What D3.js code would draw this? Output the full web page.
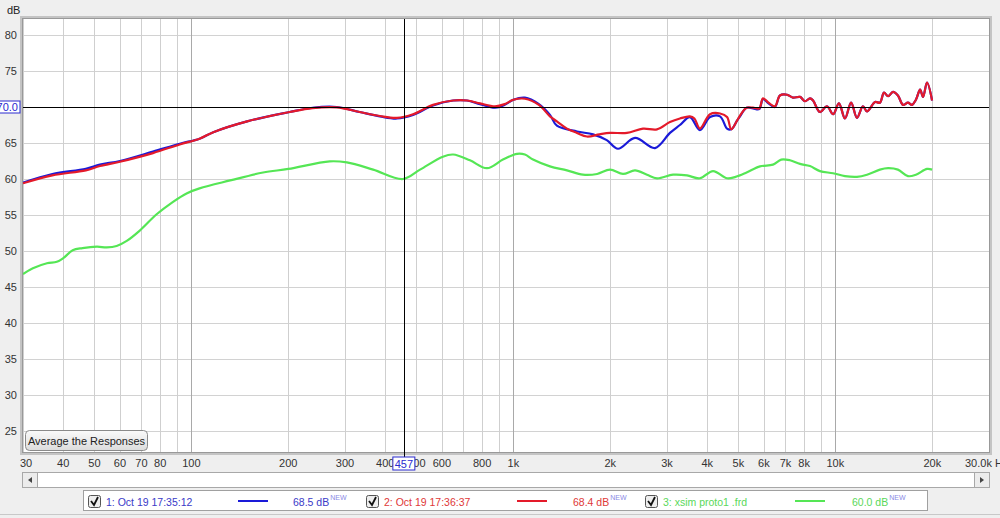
<!DOCTYPE html>
<html>
<head>
<meta charset="utf-8">
<script src="https://cdn.jsdelivr.net/npm/d3@7"></script>
<style>
  html, body { margin: 0; padding: 0; background: #efefef; }
  svg { display: block; font-family: "Liberation Sans", Arial, sans-serif; }
</style>
</head>
<body>
<svg id="chart" width="1000" height="518"></svg>
<script>
// ---- data ----
const yTicks = [25, 30, 35, 40, 45, 50, 55, 60, 65, 70, 75, 80];
const gridFreqs = [30, 40, 50, 60, 70, 80, 90, 100, 200, 300, 400, 500, 600, 700, 800, 900,
  1000, 2000, 3000, 4000, 5000, 6000, 7000, 8000, 9000, 10000, 20000];
const decadeFreqs = [100, 1000, 10000];
const xLabelFreqs = [30, 40, 50, 60, 70, 80, 100, 200, 300, 400, 500, 600, 800, 1000,
  2000, 3000, 4000, 5000, 6000, 7000, 8000, 10000, 20000];
const xLabelText = ["30", "40", "50", "60", "70", "80", "100", "200", "300", "400", "500", "600", "800", "1k",
  "2k", "3k", "4k", "5k", "6k", "7k", "8k", "10k", "20k"];

const redFreq = [30, 37, 47, 52, 60, 76, 92, 106, 117, 149, 202, 238, 283, 333, 385, 435, 488, 563, 650, 718,
  788, 877, 940, 1000, 1086, 1200, 1299, 1365, 1467, 1576, 1692, 1850, 1996, 2253, 2527, 2793, 3064, 3291,
  3534, 3650, 3795, 4081, 4384, 4609, 4750, 4950, 5057, 5300, 5550, 5800, 5961, 6200, 6490, 6732, 7080,
  7385, 7765, 8052, 8340, 8525, 8955, 9420, 9840, 10260, 10710, 11190, 11670, 12180, 12540, 13290, 13750,
  14160, 14580, 15100, 15640, 16220, 16800, 17300, 17790, 18330, 18720, 19260, 19970];
const redDb = [59.4, 60.5, 61.2, 61.8, 62.4, 63.6, 64.8, 65.6, 66.5, 68.0, 69.3, 69.85, 69.95, 69.3, 68.75, 68.5,
  69.0, 70.3, 70.9, 70.9, 70.5, 70.1, 70.4, 71.0, 71.15, 70.3, 68.7, 68.0, 67.0, 66.4, 65.9, 66.2, 66.4, 66.4,
  67.0, 66.9, 67.9, 68.4, 68.7, 68.4, 67.0, 69.0, 69.1, 68.6, 66.9, 68.1, 68.8, 69.9, 69.9, 69.8, 71.2, 70.6,
  70.1, 71.6, 71.7, 71.3, 71.4, 70.8, 71.2, 70.9, 69.3, 70.1, 69.0, 70.5, 68.4, 70.6, 68.5, 70.1, 69.4, 70.7,
  70.6, 72.0, 71.5, 72.1, 71.6, 70.3, 70.6, 70.3, 71.0, 72.4, 71.4, 73.4, 70.9];

const blueFreq = [30, 37, 47, 52, 60, 76, 92, 106, 117, 149, 202, 238, 283, 333, 385, 435, 488, 563, 650, 718,
  788, 877, 940, 1000, 1086, 1200, 1299, 1365, 1576, 1767, 1950, 2113, 2387, 2753, 3064, 3291, 3534, 3795,
  4081, 4384, 4609, 4750, 4950, 5057, 5300, 5550, 5800, 5961, 6200, 6490, 6732, 7080, 7385, 7765, 8052,
  8340, 8525, 8955, 9420, 9840, 10260, 10710, 11190, 11670, 12180, 12540, 13290, 13750, 14160, 14580,
  15100, 15640, 16220, 16800, 17300, 17790, 18330, 18720, 19260, 19970];
const blueDb = [59.5, 60.7, 61.4, 62.0, 62.5, 63.8, 64.9, 65.6, 66.5, 68.0, 69.3, 69.9, 70.0, 69.3, 68.7, 68.4,
  68.9, 70.2, 70.9, 70.9, 70.4, 69.9, 70.3, 71.0, 71.3, 70.4, 68.9, 67.4, 66.6, 66.2, 65.4, 64.2, 65.7, 64.3,
  66.4, 67.5, 68.6, 66.8, 68.6, 68.7, 67.0, 66.9, 68.1, 68.7, 69.9, 69.8, 69.7, 71.1, 70.5, 70.0, 71.6, 71.7,
  71.3, 71.4, 70.8, 71.2, 70.9, 69.3, 70.1, 69.0, 70.5, 68.4, 70.6, 68.5, 70.1, 69.4, 70.7, 70.6, 72.0, 71.5,
  72.1, 71.6, 70.3, 70.6, 70.3, 71.0, 72.4, 71.4, 73.4, 70.9];

const greenFreq = [30, 32.2, 35.6, 38.2, 40, 42.8, 45.9, 50.9, 54.6, 58.6, 63, 69, 78, 87.5, 96.6, 106, 132, 167,
  200, 269, 304, 367, 454, 513, 604, 650, 733, 828, 928, 1027, 1086, 1151, 1299, 1467, 1644, 1820, 1996,
  2190, 2387, 2600, 2793, 3133, 3461, 3795, 4170, 4609, 4900, 5300, 5835, 6400, 6790, 7230, 7765, 8340,
  8955, 9840, 10710, 11670, 12540, 13750, 14580, 15640, 16800, 17790, 19260, 19970];
const greenDb = [46.8, 47.6, 48.3, 48.5, 49.0, 50.1, 50.4, 50.6, 50.5, 50.7, 51.4, 52.8, 55.1, 56.8, 58.0, 58.7,
  59.8, 60.9, 61.4, 62.45, 62.3, 61.3, 60.0, 61.3, 63.1, 63.4, 62.6, 61.5, 62.7, 63.5, 63.4, 62.7, 61.75, 61.2,
  60.6, 60.7, 61.3, 60.7, 61.2, 60.6, 60.1, 60.6, 60.5, 60.1, 61.1, 60.1, 60.3, 60.9, 61.75, 62.0, 62.7, 62.6,
  62.1, 61.8, 61.1, 60.8, 60.4, 60.3, 60.6, 61.3, 61.5, 61.3, 60.4, 60.6, 61.4, 61.3];

const legendNames = ["1: Oct 19 17:35:12", "2: Oct 19 17:36:37", "3: xsim proto1 .frd"];
const legendLevels = ["68.5 dB", "68.4 dB", "60.0 dB"];
const seriesColors = ["#1a1ad8", "#e41a2a", "#55e655"];
const legendText = ["#3a3ac8", "#e03838", "#5ad85a"];

const cursorFreq = 457;
const cursorDb = 70;

// ---- scales ----
const svg = d3.select("#chart");
const x = d3.scaleLog().domain([30, 30000]).range([23, 989]);
const y = d3.scaleLinear().domain([25, 80]).range([431, 35]);
const plotTop = 19, plotBottom = 452, plotLeft = 23, plotRight = 989;

// plot frame with a soft shadow
svg.append("rect").attr("x", plotLeft - 3).attr("y", plotTop - 3)
  .attr("width", plotRight - plotLeft + 6).attr("height", plotBottom - plotTop + 6)
  .attr("fill", "#c4c4c4");
svg.append("rect").attr("x", plotLeft - 1).attr("y", plotTop - 1)
  .attr("width", plotRight - plotLeft + 2).attr("height", plotBottom - plotTop + 2)
  .attr("fill", "#999");
svg.append("rect").attr("x", plotLeft).attr("y", plotTop)
  .attr("width", plotRight - plotLeft).attr("height", plotBottom - plotTop)
  .attr("fill", "#fff");

const grid = svg.append("g").attr("shape-rendering", "crispEdges");
grid.selectAll("line.h").data(yTicks).join("line")
  .attr("x1", plotLeft).attr("x2", plotRight)
  .attr("y1", d => y(d)).attr("y2", d => y(d))
  .attr("stroke", "#d2d2d2");
grid.selectAll("line.v").data(gridFreqs).join("line")
  .attr("x1", d => Math.round(x(d)) + 0.5).attr("x2", d => Math.round(x(d)) + 0.5)
  .attr("y1", plotTop).attr("y2", plotBottom)
  .attr("stroke", d => decadeFreqs.includes(d) ? "#a9a9a9" : "#cfcfcf");

// y labels
svg.append("text").attr("x", 7).attr("y", 14).attr("font-size", 11).attr("fill", "#222").text("dB");
svg.selectAll("text.yl").data(yTicks.filter(d => d !== cursorDb)).join("text")
  .attr("x", 17).attr("y", d => y(d) + 4).attr("text-anchor", "end")
  .attr("font-size", 11).attr("fill", "#333").text(d => d);

// x labels
svg.selectAll("text.xl").data(xLabelFreqs).join("text")
  .attr("x", (d, i) => d === 30 ? x(d) + 3 : x(d)).attr("y", 467).attr("text-anchor", "middle")
  .attr("font-size", 11).attr("fill", "#333").text((d, i) => xLabelText[i]);
svg.append("text").attr("x", 965).attr("y", 467).attr("font-size", 11).attr("fill", "#333").text("30.0k Hz");

// curves
const line = d3.line().x(d => x(d[0])).y(d => y(d[1])).curve(d3.curveCatmullRom.alpha(0.5));
const series = [
  d3.zip(blueFreq, blueDb),
  d3.zip(redFreq, redDb),
  d3.zip(greenFreq, greenDb)
];
const clip = svg.append("clipPath").attr("id", "plotclip").append("rect")
  .attr("x", plotLeft).attr("y", plotTop).attr("width", plotRight - plotLeft).attr("height", plotBottom - plotTop);
const curves = svg.append("g").attr("clip-path", "url(#plotclip)");
[2, 0, 1].forEach(i => {
  curves.append("path").datum(series[i]).attr("d", line)
    .attr("fill", "none").attr("stroke", seriesColors[i]).attr("stroke-width", 2.2)
    .attr("stroke-linejoin", "round");
});

// cursor lines
svg.append("line").attr("x1", plotLeft).attr("x2", plotRight)
  .attr("y1", y(cursorDb) + 0.5).attr("y2", y(cursorDb) + 0.5).attr("stroke", "#000");
svg.append("line").attr("x1", Math.round(x(cursorFreq)) + 0.5).attr("x2", Math.round(x(cursorFreq)) + 0.5)
  .attr("y1", plotTop).attr("y2", 457).attr("stroke", "#000");

// cursor value boxes
svg.append("rect").attr("x", -2).attr("y", y(cursorDb) - 6).attr("width", 22).attr("height", 12)
  .attr("fill", "#fff").attr("stroke", "#2a2ad0");
svg.append("text").attr("x", 18).attr("y", y(cursorDb) + 4).attr("text-anchor", "end")
  .attr("font-size", 11).attr("fill", "#2a2ad0").text(cursorDb.toFixed(1));
const cx = x(cursorFreq);
svg.append("rect").attr("x", cx - 11).attr("y", 457).attr("width", 22).attr("height", 13)
  .attr("fill", "#fff").attr("stroke", "#2a2ad0");
svg.append("text").attr("x", cx).attr("y", 467.5).attr("text-anchor", "middle")
  .attr("font-size", 11).attr("fill", "#2a2ad0").text(cursorFreq);

// "Average the Responses" button
const grad = svg.append("defs").append("linearGradient").attr("id", "btn").attr("x1", 0).attr("x2", 0).attr("y1", 0).attr("y2", 1);
grad.append("stop").attr("offset", "0%").attr("stop-color", "#fafafa");
grad.append("stop").attr("offset", "100%").attr("stop-color", "#dcdcdc");
svg.append("rect").attr("x", 25.5).attr("y", 430.5).attr("width", 122).attr("height", 20).attr("rx", 4)
  .attr("fill", "url(#btn)").attr("stroke", "#8a8a8a");
svg.append("text").attr("x", 86.5).attr("y", 444.5).attr("text-anchor", "middle")
  .attr("font-size", 11).attr("fill", "#222").text("Average the Responses");

// scrollbar
svg.append("rect").attr("x", 22.5).attr("y", 472.5).attr("width", 967).attr("height", 15)
  .attr("fill", "#fff").attr("stroke", "#a8a8a8");
svg.append("rect").attr("x", 22.5).attr("y", 472.5).attr("width", 15).attr("height", 15)
  .attr("fill", "#ececec").attr("stroke", "#a8a8a8");
svg.append("rect").attr("x", 974.5).attr("y", 472.5).attr("width", 15).attr("height", 15)
  .attr("fill", "#ececec").attr("stroke", "#a8a8a8");
svg.append("path").attr("d", "M28,480 L32,477 L32,483 Z").attr("fill", "#444");
svg.append("path").attr("d", "M984,480 L980,477 L980,483 Z").attr("fill", "#444");

// legend
svg.append("rect").attr("x", 83.5).attr("y", 490.5).attr("width", 844).attr("height", 20)
  .attr("fill", "#fff").attr("stroke", "#a0a0a0");
svg.append("line").attr("x1", 0).attr("x2", 1000).attr("y1", 514.5).attr("y2", 514.5).attr("stroke", "#c8c8c8");
const itemX = [88, 366, 645];
const lineX = [238, 517, 795];
const levelX = [293, 573, 852];
legendNames.forEach((name, i) => {
  const g = svg.append("g");
  g.append("rect").attr("x", itemX[i] + 0.5).attr("y", 495.5).attr("width", 12).attr("height", 12).attr("rx", 2)
    .attr("fill", "#eee").attr("stroke", "#555");
  g.append("path").attr("d", `M${itemX[i] + 3},${501} L${itemX[i] + 6},${505} L${itemX[i] + 10},${497}`)
    .attr("fill", "none").attr("stroke", "#111").attr("stroke-width", 1.8);
  g.append("text").attr("x", itemX[i] + 18).attr("y", 505.5).attr("font-size", 10.5)
    .attr("fill", legendText[i]).text(name);
  g.append("line").attr("x1", lineX[i]).attr("x2", lineX[i] + 30).attr("y1", 501).attr("y2", 501)
    .attr("stroke", seriesColors[i]).attr("stroke-width", 2);
  const t = g.append("text").attr("x", levelX[i]).attr("y", 505.5).attr("font-size", 10.5)
    .attr("fill", legendText[i]).text(legendLevels[i]);
  const w = t.node().getComputedTextLength();
  g.append("text").attr("x", levelX[i] + w + 1).attr("y", 500).attr("font-size", 7)
    .attr("fill", "#8a8ae6").text("NEW");
});
</script>
</body>
</html>
